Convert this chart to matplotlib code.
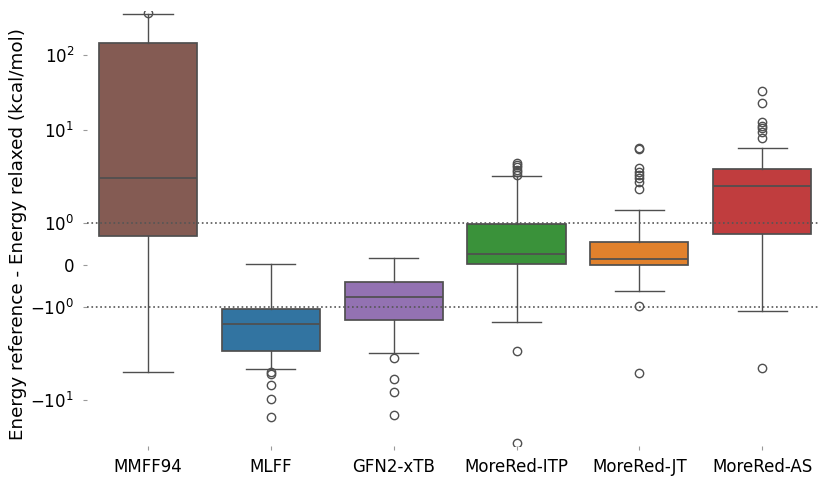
import numpy as np
import matplotlib
matplotlib.use("Agg")
import matplotlib.pyplot as plt
from matplotlib.ticker import FixedLocator, FixedFormatter

plt.rcParams["font.family"] = ["DejaVu Sans"]

# Methods and their box statistics (kcal/mol)
methods = ["MMFF94", "MLFF", "GFN2-xTB", "MoreRed-ITP", "MoreRed-JT", "MoreRed-AS"]
colors = ["#845b53", "#3274a1", "#9372b2", "#3a923a", "#e1812c", "#c03d3e"]

q1 = [0.69, -2.97, -1.38, 0.02, 0.0, 0.74]
med = [3.05, -1.52, -0.76, 0.26, 0.14, 2.5]
q3 = [145.0, -1.05, -0.40, 0.98, 0.55, 3.8]
whislo = [-5.0, -4.64, -3.13, -1.45, -0.62, -1.10]
whishi = [352.0, 0.02, 0.17, 3.2, 1.38, 6.4]
fliers = [
    [360.0],
    [-5.0, -5.25, -6.9, -9.75, -16.9],
    [-3.53, -5.94, -8.2, -15.8],
    [4.4, 4.2, 4.0, 3.7, 3.5, 3.3, -2.97, -37.4],
    [6.4, 6.3, 3.9, 3.5, 3.3, 3.05, 2.76, 2.32, -0.98, -5.1],
    [33.0, 23.0, 12.8, 11.3, 10.6, 9.5, 8.2, -4.5],
]

# y scale: symmetric log-like, fitted to the tick spacing of the figure
# (u = signed decades, p = screen units)
u_knots = np.array([-9, -3, -2, -1, 0, 1, 2, 3, 9], dtype=float)
p_knots = np.array([-660, -210, -135, -42, 0, 42, 135, 210, 660], dtype=float)


def forward(x):
    x = np.asarray(x, dtype=float)
    ax_ = np.abs(x)
    u = np.where(ax_ <= 1, x, np.sign(x) * (1 + np.log10(np.maximum(ax_, 1e-300))))
    return np.interp(u, u_knots, p_knots)


def inverse(p):
    p = np.asarray(p, dtype=float)
    u = np.interp(p, p_knots, u_knots)
    au = np.abs(u)
    return np.where(au <= 1, u, np.sign(u) * 10 ** (np.maximum(au, 1) - 1))


fig = plt.figure(figsize=(8.2, 4.82), dpi=100)
ax = fig.add_axes([86.6 / 820, 36 / 482, 737 / 820, 435 / 482])

stats = []
for i, m in enumerate(methods):
    stats.append(dict(label=m, q1=q1[i], med=med[i], q3=q3[i],
                      whislo=whislo[i], whishi=whishi[i], fliers=fliers[i]))

line_col = "#4f4f4f"
bp = ax.bxp(stats, positions=range(len(methods)), widths=0.8, patch_artist=True,
            boxprops=dict(edgecolor=line_col, linewidth=1.25),
            medianprops=dict(color=line_col, linewidth=1.25),
            whiskerprops=dict(color=line_col, linewidth=1.0),
            capprops=dict(color=line_col, linewidth=1.0),
            flierprops=dict(marker="o", markersize=6, markerfacecolor="none",
                            markeredgecolor=line_col, markeredgewidth=1.0),
            capwidths=0.4, zorder=2)
for patch, c in zip(bp["boxes"], colors):
    patch.set_facecolor(c)

# dotted reference lines at +/- 1 kcal/mol
ax.axhline(1, color="#555555", linestyle=":", linewidth=1.2, zorder=3)
ax.axhline(-1, color="#555555", linestyle=":", linewidth=1.2, zorder=3)

ax.set_yscale("function", functions=(forward, inverse))
ax.set_ylim(inverse(-181), inverse(254))
ax.set_xlim(-0.5, len(methods) - 0.5)

ax.yaxis.set_major_locator(FixedLocator([-10, -1, 0, 1, 10, 100]))
ax.yaxis.set_major_formatter(FixedFormatter([
    r"$\mathdefault{-10^{1}}$", r"$\mathdefault{-10^{0}}$", "0",
    r"$\mathdefault{10^{0}}$", r"$\mathdefault{10^{1}}$", r"$\mathdefault{10^{2}}$"]))
ax.yaxis.set_minor_locator(FixedLocator([]))
ax.set_xticks(range(len(methods)))
ax.set_xticklabels(methods)
ax.tick_params(axis="both", labelsize=12, length=3, width=0.8, color="#999999", pad=6)

for s in ax.spines.values():
    s.set_visible(False)

ax.set_ylabel("Energy reference - Energy relaxed (kcal/mol)", fontsize=13.2)
ax.yaxis.set_label_coords(-0.081, 0.4885)

fig.savefig("out.png", dpi=100)
